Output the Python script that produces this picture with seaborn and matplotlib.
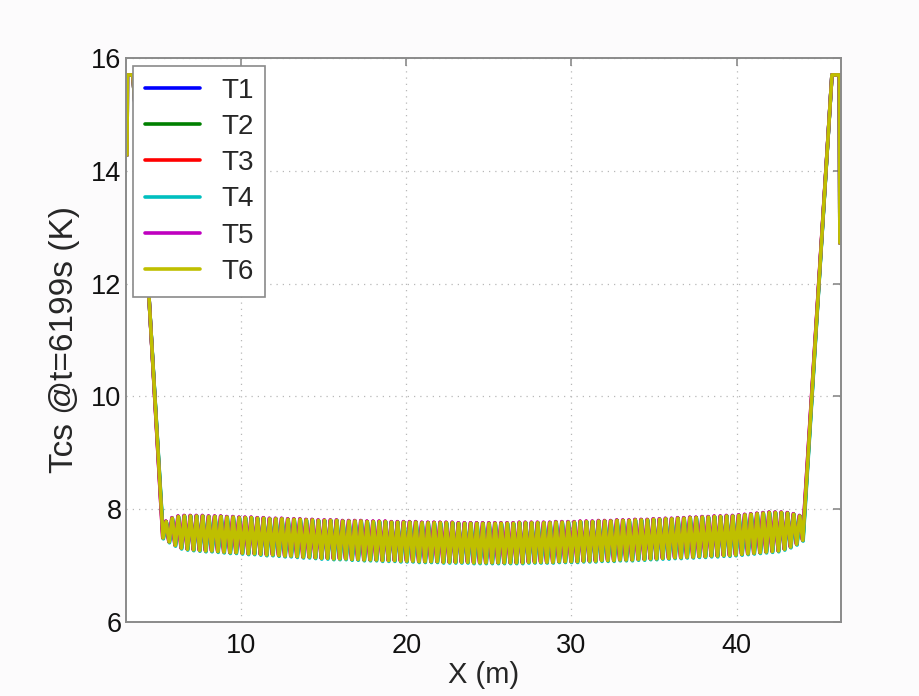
import numpy as np
import pandas as pd
import matplotlib
matplotlib.use("Agg")
import matplotlib.pyplot as plt
import seaborn as sns

# ---------------- data ----------------
series_names = ["T1", "T2", "T3", "T4", "T5", "T6"]
series_colors = ["#0000ff", "#008000", "#ff0000", "#00bfbf", "#bf00bf", "#bfbf00"]

# left end of the profile (x in m, T in K)
left_x = [3.10, 3.12, 3.45, 4.40]
left_T = [14.28, 15.70, 15.70, 11.90]
# right end of the profile
right_x = [45.77, 46.22, 46.25]
right_T = [15.70, 15.70, 12.72]

# oscillating section: first node, node spacing
osc_start = 5.28
osc_step = 0.1844

# trough values (106) and peak values (105) of the oscillation
troughs = [7.49, 7.42, 7.36, 7.31, 7.29,
           7.28, 7.27, 7.26, 7.26, 7.25, 7.24, 7.23, 7.23,
           7.22, 7.21, 7.21, 7.20, 7.19, 7.19, 7.18, 7.17, 7.17, 7.16, 7.15, 7.15, 7.14, 7.13,
           7.13, 7.12, 7.12, 7.12, 7.11, 7.11, 7.10, 7.10, 7.10, 7.09, 7.09, 7.09, 7.08, 7.08,
           7.08, 7.07, 7.07, 7.07, 7.07, 7.06, 7.06, 7.06, 7.06, 7.06, 7.05, 7.05, 7.05, 7.05,
           7.05, 7.05, 7.05, 7.05, 7.05, 7.06, 7.06, 7.06, 7.06, 7.06, 7.07, 7.07, 7.07,
           7.07, 7.08, 7.08, 7.08, 7.09, 7.09, 7.09, 7.10, 7.10, 7.10, 7.11, 7.11, 7.12, 7.12,
           7.13, 7.13, 7.14, 7.14, 7.15, 7.15, 7.16, 7.16, 7.17, 7.17, 7.18, 7.18, 7.19,
           7.20, 7.21, 7.22, 7.23, 7.24, 7.25, 7.26,
           7.29, 7.33, 7.38, 7.45]
peaks = [7.78, 7.84, 7.87, 7.88,
         7.88, 7.88, 7.88, 7.87, 7.87, 7.87, 7.86, 7.86, 7.85,
         7.85, 7.85, 7.84, 7.84, 7.83, 7.83, 7.83, 7.82, 7.82, 7.82, 7.81, 7.81, 7.80, 7.80,
         7.80, 7.80, 7.79, 7.79, 7.79, 7.79, 7.78, 7.78, 7.78, 7.78, 7.77, 7.77, 7.77, 7.77,
         7.77, 7.76, 7.76, 7.76, 7.76, 7.76, 7.76, 7.75, 7.75, 7.75, 7.75, 7.75, 7.75, 7.75,
         7.75, 7.75, 7.75, 7.76, 7.76, 7.76, 7.76, 7.76, 7.76, 7.77, 7.77, 7.77, 7.77,
         7.78, 7.78, 7.78, 7.79, 7.79, 7.79, 7.80, 7.80, 7.80, 7.81, 7.81, 7.81, 7.82, 7.82,
         7.83, 7.83, 7.84, 7.84, 7.85, 7.85, 7.86, 7.86, 7.87, 7.87, 7.88, 7.88, 7.89,
         7.90, 7.91, 7.92, 7.93, 7.94, 7.94, 7.94,
         7.93, 7.91, 7.88]

# small per-series differences in the oscillating section
series_dx = [0.00, 0.01, -0.015, 0.02, -0.02, 0.00]
series_dT = [0.00, 0.00, 0.005, -0.015, 0.01, 0.00]

yticks = [6, 8, 10, 12, 14, 16]
xticks = [10, 20, 30, 40]

# ---------------- build long-form table ----------------
osc_T = []
for i in range(len(troughs)):
    osc_T.append(troughs[i])
    if i < len(peaks):
        osc_T.append(peaks[i])
osc_x = osc_start + osc_step * np.arange(len(osc_T))

rows = []
for name, dx, dT in zip(series_names, series_dx, series_dT):
    xs = list(left_x) + list(osc_x + dx) + list(right_x)
    ts = list(left_T) + [t + dT for t in osc_T] + list(right_T)
    for order, (xv, tv) in enumerate(zip(xs, ts)):
        rows.append({"series": name, "order": order, "X": xv, "T": tv})
df = pd.DataFrame(rows)

# ---------------- plot ----------------
sns.set_theme(style="white")
plt.rcParams["font.family"] = ["Liberation Sans", "DejaVu Sans"]

fig = plt.figure(figsize=(9.19, 6.96), dpi=100, facecolor="#fcfbfc")
ax = fig.add_axes([0.1368, 0.1063, 0.7780, 0.8104])
ax.set_facecolor("white")

sns.lineplot(data=df, x="X", y="T", hue="series", hue_order=series_names,
             palette=dict(zip(series_names, series_colors)), estimator=None,
             sort=False, units="series", linewidth=2.6, ax=ax, legend=True)

ax.set_xlim(3.02, 46.3)
ax.set_ylim(6, 16)
ax.set_xticks(xticks)
ax.set_yticks(yticks)
ax.grid(True, linestyle=(0, (1, 4)), color="#b8b8b8", linewidth=0.9)

for s in ax.spines.values():
    s.set_visible(True)
    s.set_color("#8a8a8a")
    s.set_linewidth(1.4)

ax.tick_params(axis="both", which="both", direction="in", length=6, width=1.2,
               color="#8a8a8a", labelcolor="#111111", labelsize=19.5,
               top=True, right=True)
ax.tick_params(axis="x", pad=8)
ax.tick_params(axis="y", pad=3)

ax.set_xlabel("X (m)", fontsize=21, labelpad=1)
ax.set_ylabel("Tcs @t=6199s (K)", fontsize=24, labelpad=8)

handles, labels = ax.get_legend_handles_labels()
leg = ax.legend(handles, labels, loc="upper left", bbox_to_anchor=(0.0102, 0.986),
                borderaxespad=0, fontsize=20, handlelength=2.0, handletextpad=0.75,
                labelspacing=0.37, borderpad=0.42, frameon=True, fancybox=False,
                framealpha=1, edgecolor="#8a8a8a")
leg.get_frame().set_linewidth(1.2)
for ln in leg.get_lines():
    ln.set_linewidth(2.6)

fig.savefig("out.png", dpi=100, facecolor=fig.get_facecolor())
